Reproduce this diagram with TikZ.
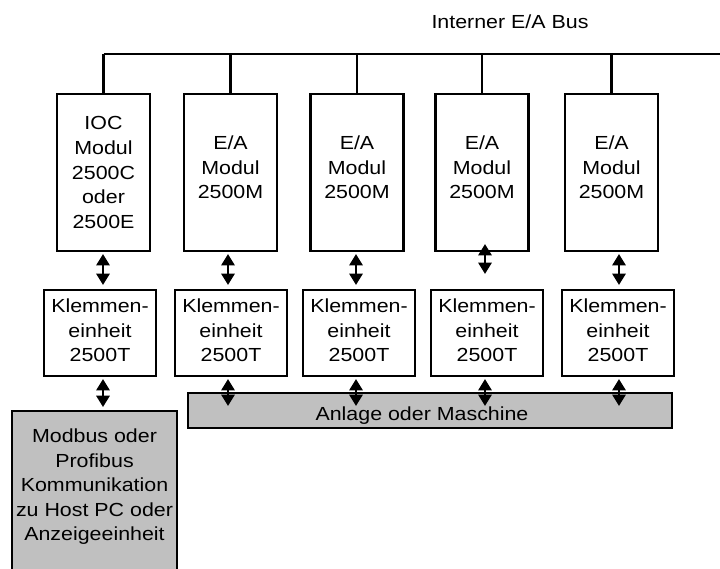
\documentclass[tikz,border=0pt]{standalone}
\usepackage{fontspec}
\setmainfont{Liberation Sans}[FakeStretch=1.13]
\usepackage{tikz}
\usetikzlibrary{arrows.meta, calc}
\definecolor{plantgray}{HTML}{C0C0C0}

\tikzset{
  txt/.style={font=\fontsize{14.2}{18.4}\selectfont, align=center, inner sep=0pt},
  wire/.style={line width=1.6pt},
  unitbox/.style={txt, draw, line width=1.6pt},
  modbox/.style={unitbox, minimum width=69.75pt, minimum height=117.75pt},
  klbox/.style={unitbox, minimum width=84pt, minimum height=64.5pt, text depth=4pt},
  biarrow/.style={line width=1.6pt, {Triangle[length=8.5pt, width=10pt]}-{Triangle[length=8.5pt, width=10pt]}}
}

\begin{document}
\begin{tikzpicture}[x=0.75pt, y=-0.75pt]
\useasboundingbox (0,0) rectangle (720,568);

% bus
\coordinate (busL) at (103.5,54);
\coordinate (busR) at (722,54);
\draw[wire] (busL) -- (busR);
\node[txt] (buslabel) at (510,22) {Interner E/A Bus};

% modules
\node[modbox] (m1) at (103.5,172.5) {IOC\\Modul\\2500C\\oder\\2500E};
\foreach \i/\x in {2/230.5, 3/357, 4/482, 5/611.5}
  \node[modbox, text depth=8pt] (m\i) at (\x,172.5) {E/A\\Modul\\2500M};
\foreach \i in {1,...,5}
  \draw[wire] (m\i.north) -- (m\i.north |- busL);

% terminal units
\foreach \i/\x in {1/100, 2/231, 3/359, 4/487, 5/618}
  \node[klbox] (k\i) at (\x,333) {Klemmen-\\einheit\\2500T};

% plant
\node[draw, wire, fill=plantgray, minimum width=363pt, minimum height=26.25pt, inner sep=0pt] (plant) at (430,410.5) {};
\node[txt] (plantlabel) at (422,416) {Anlage oder Maschine};

% communication
\node[fill=plantgray, minimum width=123.75pt, minimum height=150pt, anchor=north, inner sep=0pt] (mb) at (94.5,411) {};
\draw[wire] (mb.south west) -- (mb.north west) -- (mb.north east) -- (mb.south east);
\node[txt] (mblabel) at (94.5,487) {Modbus oder\\Profibus\\Kommunikation\\zu Host PC oder\\Anzeigeeinheit};

% arrows
\foreach \i/\x in {1/103, 2/228, 3/356, 4/485, 5/619}
  \coordinate (c\i) at (\x,0);
\foreach \i in {1,2,3,5}
  \draw[biarrow, shorten <=1.5pt, shorten >=3pt] (c\i |- m\i.south) -- (c\i |- k\i.north);
\draw[biarrow] ($(c4 |- m4.south)+(0,-8)$) -- ($(c4 |- k4.north)+(0,-15)$);
\foreach \i in {2,...,5}
  \draw[biarrow, shorten <=1.5pt] (c\i |- k\i.south) -- ($(c\i |- plant.north)+(0,14)$);
\draw[biarrow, shorten <=1.5pt, shorten >=3pt] (c1 |- k1.south) -- (c1 |- mb.north);
\end{tikzpicture}
\end{document}
